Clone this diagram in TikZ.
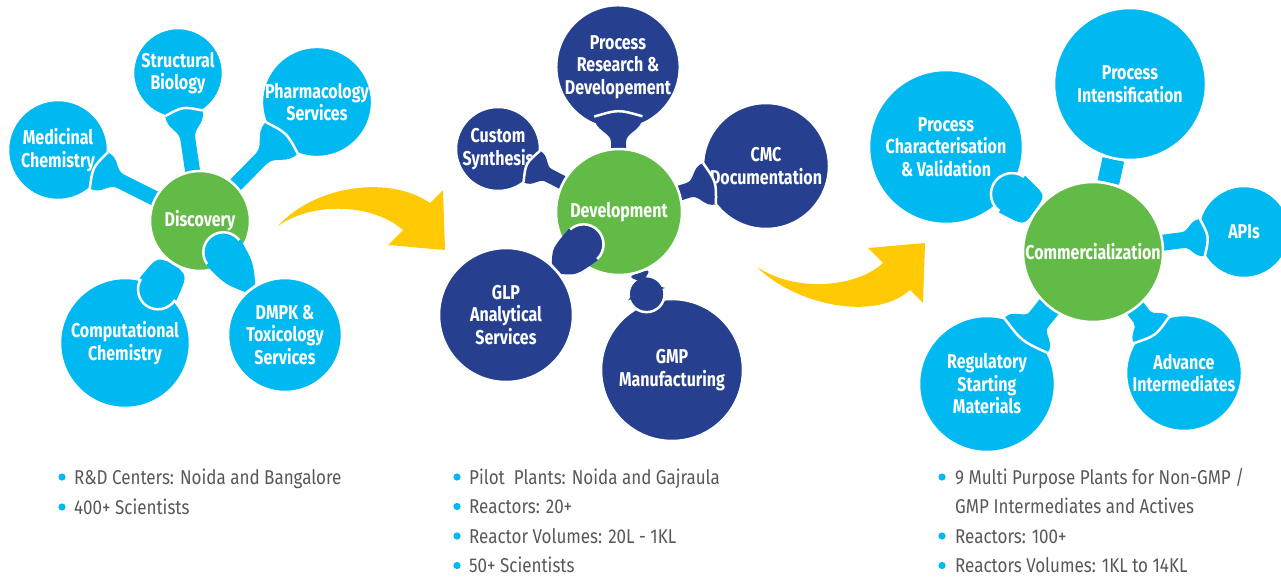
\documentclass[tikz,border=0pt]{standalone}
\usepackage{fontspec}
\usepackage{xcolor}
\usetikzlibrary{calc}
\usetikzlibrary{backgrounds}

\newfontfamily\circfont{Fira Sans}[FakeStretch=0.8]
\newfontfamily\listfont{Fira Sans}[FakeStretch=0.85]

\definecolor{liteblue}{RGB}{0,185,241}
\definecolor{darkblue}{RGB}{38,64,143}
\definecolor{hubgreen}{RGB}{99,187,71}
\definecolor{arrowyellow}{RGB}{255,202,5}
\definecolor{textgray}{RGB}{88,88,90}

\pgfdeclarelayer{front}
\pgfsetlayers{background,main,front}

\tikzset{
	circ/.style={circle, draw=white, line width=2.5pt, inner sep=0pt, text=white, align=center,
		font=\circfont\bfseries\fontsize{20}{22.5}\selectfont},
	hub/.style={circ, fill=hubgreen, minimum size=#1},
	lite/.style={circ, fill=liteblue, minimum size=#1},
	dark/.style={circ, fill=darkblue, minimum size=#1},
	item/.style={anchor=base west, inner sep=0pt, text=textgray,
		font=\listfont\fontsize{20}{24}\selectfont},
	dot/.style={fill=liteblue},
}

% funnel: hub, satellite, radius, half angle, flare length, stem width, colour
\newcommand{\trumpet}[7]{%
	\pgfmathsetmacro\tpOut{#3+#5}
	\pgfmathsetmacro\tpCa{#3+0.45*#5}
	\pgfmathsetmacro\tpCb{#3+0.5*#5}
	\pgfmathsetmacro\tpHalf{#6/2}
	\pgfmathsetmacro\tpLat{#3*sin(#4)}
	\pgfmathsetmacro\tpLip{#3*cos(#4)-7}
	\path ($(#2)!#3pt!#4:(#1)$) coordinate (m1) ($(#2)!#3pt!-#4:(#1)$) coordinate (m2)
		($(#2)!\tpLip pt!(#1)$) coordinate (k);
	\fill[#7] ($(#1)!\tpHalf pt!-90:(#2)$) -- ($(#2)!\tpOut pt!(#1)!\tpHalf pt!90:(#1)$)
		.. controls ($(#2)!\tpCb pt!(#1)!\tpHalf pt!90:(#1)$) and ($(#2)!\tpCa pt!(#1)!\tpLat pt!90:(#1)$) .. (m1)
		.. controls (k) .. (m2)
		.. controls ($(#2)!\tpCa pt!(#1)!\tpLat pt!-90:(#1)$) and ($(#2)!\tpCb pt!(#1)!\tpHalf pt!-90:(#1)$) .. ($(#2)!\tpOut pt!(#1)!\tpHalf pt!-90:(#1)$)
		-- ($(#1)!\tpHalf pt!90:(#2)$) -- cycle;
	\draw[white, line width=2.5pt] (m1) .. controls (k) .. (m2);
}

% bulb: near node, far node, distance, bulb radius, far radius, stem width, colour
\newcommand{\bulb}[7]{%
	\coordinate (b) at ($(#1)!#3pt!(#2)$);
	\pgfmathsetmacro\bOut{#5+1.5}
	\pgfmathsetmacro\bSide{#4+1.5}
	\pgfmathsetmacro\bCtl{#4*1.3}
	\pgfmathsetmacro\bLat{#4*0.9}
	\pgfmathsetmacro\bHalf{#6/2}
	\coordinate (e) at ($(#2)!\bOut pt!(b)$);
	\filldraw[#7, draw=white, line width=2.5pt] (b) circle (#4pt);
	\fill[#7] ($(b)!\bSide pt!90:(e)$) .. controls ($(b)!\bCtl pt!(e)!\bLat pt!90:(e)$) .. ($(e)!\bHalf pt!-90:(b)$)
		-- ($(e)!\bHalf pt!90:(b)$) .. controls ($(b)!\bCtl pt!(e)!\bLat pt!-90:(e)$) .. ($(b)!\bSide pt!-90:(e)$) -- cycle;
}

\begin{document}
\begin{tikzpicture}[x=1pt, y=-1pt]
	\useasboundingbox (0,0) rectangle (1281,578);

	% hubs
	\begin{pgfonlayer}{front}
		\node[hub=100pt] (disc) at (200,221) {Discovery};
		\node[hub=126pt] (devl) at (619,212) {Development};
		\node[hub=140pt] (comm) at (1093,252) {Commercialization};
	\end{pgfonlayer}

	% discovery
	\node[lite=100pt] (medc) at (58,150) {Medicinal\\Chemistry};
	\node[lite=90pt] (strb) at (178,73) {Structural\\Biology};
	\node[lite=110pt] (phar) at (317,102) {Pharmacology\\Services};
	\node[lite=130pt] (comp) at (125,343) {Computational\\Chemistry};
	\node[lite=114pt] (dmpk) at (285,335) {DMPK \&\\Toxicology\\Services};

	% development
	\node[dark=110pt] (prd) at (618,67) {Process\\Research \&\\Developement};
	\node[dark=84pt] (cust) at (498,149) {Custom\\Synthesis};
	\node[dark=126pt] (cmc) at (766,166) {CMC\\Documentation};
	\node[dark=134pt] (glp) at (506,315) {GLP\\Analytical\\Services};
	\node[dark=142pt] (gmp) at (672,370) {GMP\\Manufacturing};

	% commercialization
	\node[lite=154pt] (pchr) at (946,147) {Process\\Characterisation\\\& Validation};
	\node[lite=152pt] (pint) at (1130,84) {Process\\Intensification};
	\node[lite=92pt] (apis) at (1244,232) {APIs};
	\node[lite=136pt] (regm) at (987,384) {Regulatory\\Starting\\Materials};
	\node[lite=116pt] (advi) at (1184,373) {Advance\\Intermediates};

	\begin{pgfonlayer}{background}
		\draw[liteblue, line width=22pt] (comm) -- (pint);
	\end{pgfonlayer}

	\trumpet{disc}{medc}{50}{24}{20}{15}{liteblue}
	\trumpet{disc}{strb}{45}{25}{22}{15}{liteblue}
	\trumpet{disc}{phar}{55}{24}{25}{15}{liteblue}

	\trumpet{devl}{prd}{55}{26}{20}{15}{darkblue}
	\trumpet{devl}{cust}{42}{25}{15}{14}{darkblue}
	\trumpet{devl}{cmc}{63}{20}{18}{15}{darkblue}

	\trumpet{comm}{apis}{46}{24}{16}{16}{liteblue}
	\trumpet{comm}{regm}{68}{24}{14}{24}{liteblue}
	\trumpet{comm}{advi}{58}{22}{12}{20}{liteblue}

	\bulb{comp}{disc}{63}{20}{50}{13}{liteblue}
	\bulb{gmp}{devl}{80}{18}{63}{13}{darkblue}
	\bulb{pchr}{comm}{81}{21}{70}{14}{liteblue}
	\begin{pgfonlayer}{front}
		\bulb{disc}{dmpk}{39}{20}{57}{13}{liteblue}
		\bulb{devl}{glp}{48}{20}{67}{14}{darkblue}
	\end{pgfonlayer}

	% arrows
	\fill[arrowyellow] (278,226) .. controls (315,185) and (390,175) .. (430,203) -- (443,190)
		-- (445,250) -- (388,245) -- (403,230) .. controls (375,205) and (315,200) .. cycle;
	\fill[arrowyellow] (757,267) .. controls (795,305) and (875,322) .. (910,290) -- (923,303)
		-- (925,243) -- (868,248) -- (883,263) .. controls (860,285) and (800,295) .. cycle;

	% lists
	\foreach \t [count=\i] in {R\&D Centers: Noida and Bangalore, 400+ Scientists}{
		\fill[dot] (62,{477+30*(\i-1)}) circle (3.6);
		\node[item] (la\i) at (74,{484+30*(\i-1)}) {\t};
	}
	\foreach \t [count=\i] in {Pilot\ \ Plants: Noida and Gajraula, Reactors: 20+, Reactor Volumes: 20L - 1KL, 50+ Scientists}{
		\fill[dot] (457,{477+29.5*(\i-1)}) circle (3.6);
		\node[item] (lb\i) at (469,{484+29.5*(\i-1)}) {\t};
	}
	\foreach \y in {477,536,565.5}
		\fill[dot] (942,\y) circle (3.6);
	\node[item] (lc1) at (955,484) {9 Multi Purpose Plants for Non-GMP /};
	\node[item] (lc2) at (955,513.5) {GMP Intermediates and Actives};
	\node[item] (lc3) at (955,543) {Reactors: 100+};
	\node[item] (lc4) at (955,572.5) {Reactors Volumes: 1KL to 14KL};
\end{tikzpicture}
\end{document}
